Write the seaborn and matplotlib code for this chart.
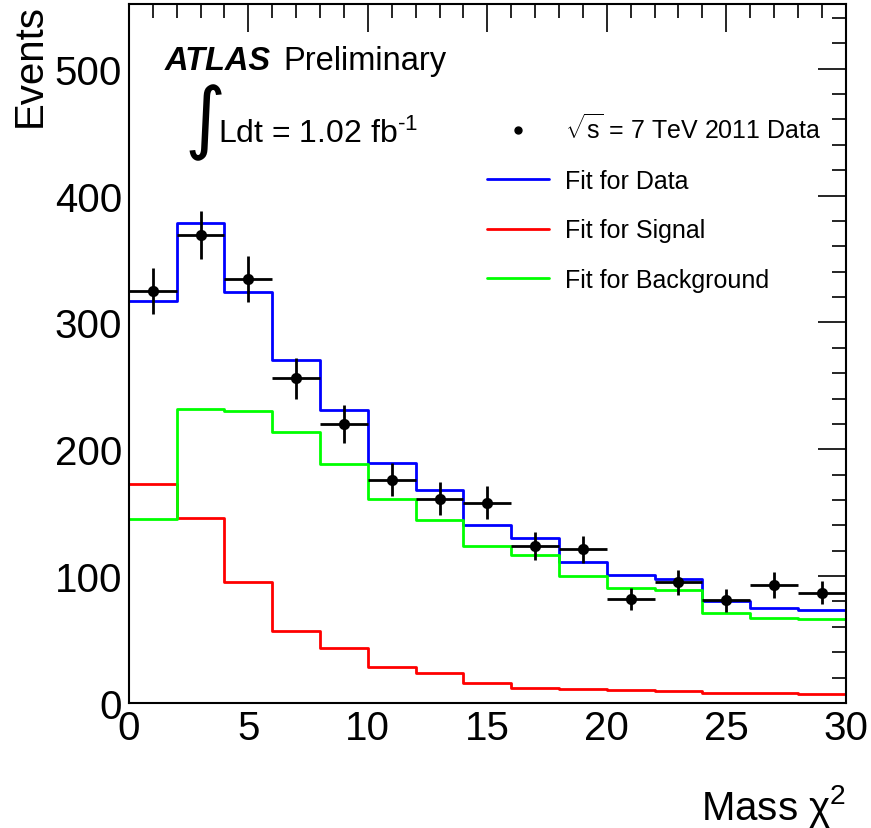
import numpy as np
import matplotlib
matplotlib.use("Agg")
import matplotlib.pyplot as plt
from matplotlib.lines import Line2D
from matplotlib.ticker import MultipleLocator
import seaborn as sns

# bins of Mass chi^2
edges = [0, 2, 4, 6, 8, 10, 12, 14, 16, 18, 20, 22, 24, 26, 28, 30]
centers = [1, 3, 5, 7, 9, 11, 13, 15, 17, 19, 21, 23, 25, 27, 29]

data_counts = [325, 369, 334, 256, 220, 176, 161, 158, 124, 121, 82, 95, 81, 93, 87]
data_err = [18, 19, 18, 16, 15, 13, 13, 13, 11, 11, 9, 10, 9, 10, 9]

fit_data = [317, 378, 324, 270, 231, 189, 168, 140, 130, 111, 101, 98, 80, 75, 73]
fit_signal = [173, 146, 95, 57, 43, 28, 24, 16, 12, 11, 10, 9.5, 8, 8, 7]
fit_background = [145, 232, 230, 214, 188, 161, 144, 124, 117, 100, 91, 89, 71, 67, 66]

sns.set_style("white")
plt.rcParams["font.family"] = ["Liberation Sans", "DejaVu Sans"]
plt.rcParams["mathtext.fontset"] = "custom"
plt.rcParams["mathtext.rm"] = "Liberation Sans"
plt.rcParams["mathtext.it"] = "Liberation Sans:italic"
plt.rcParams["mathtext.bf"] = "Liberation Sans:bold"
plt.rcParams["text.color"] = "black"
plt.rcParams["axes.labelcolor"] = "black"
plt.rcParams["xtick.color"] = "black"
plt.rcParams["ytick.color"] = "black"

fig = plt.figure(figsize=(8.71, 8.29), dpi=100)
ax = fig.add_axes([0.148, 0.1508, 0.823, 0.8432])

lw = 2.0
for vals, col in [(fit_data, "#0000ff"), (fit_signal, "#ff0000"), (fit_background, "#00ff00")]:
    sns.histplot(x=centers, weights=vals, bins=edges, element="step", fill=False,
                 color=col, linewidth=lw, ax=ax)

ax.errorbar(centers, data_counts, yerr=data_err, xerr=1, fmt="none",
            ecolor="black", elinewidth=2, capsize=0, zorder=5)
sns.scatterplot(x=centers, y=data_counts, color="black", s=65, edgecolor="black",
                linewidth=0, zorder=6, ax=ax)

ax.set_xlim(0, 30)
ax.set_ylim(0, 551)
ax.set_xlabel("")
ax.set_ylabel("")
ax.xaxis.set_major_locator(MultipleLocator(5))
ax.xaxis.set_minor_locator(MultipleLocator(1))
ax.yaxis.set_major_locator(MultipleLocator(100))
ax.yaxis.set_minor_locator(MultipleLocator(20))
ax.tick_params(which="both", direction="in", top=True, right=True, color="black",
               width=1.2, labelsize=29, labelcolor="black")
ax.tick_params(which="major", length=20)
ax.tick_params(which="minor", length=10)
ax.tick_params(axis="y", pad=5)
ax.tick_params(axis="x", pad=4)
for sp in ax.spines.values():
    sp.set_color("black")
    sp.set_linewidth(1.5)

fig.text(30 / 871, 1 - 4 / 829, "Events", rotation=90, ha="center", va="top", fontsize=29)
fig.text(846 / 871, 1 - 820 / 829, "Mass χ$^{2}$", ha="right", va="baseline", fontsize=29)

ax.text(0.050, 0.907, "ATLAS", transform=ax.transAxes, fontsize=23.5,
        fontweight="bold", fontstyle="italic", va="baseline")
ax.text(0.215, 0.907, "Preliminary", transform=ax.transAxes, fontsize=23.5, va="baseline")
ax.text(0.106, 0.831, "∫", transform=ax.transAxes, fontsize=57, ha="center", va="center",
        family=["DejaVu Sans"])
ax.text(0.124, 0.802, "Ldt = 1.02 fb$^{\\text{-1}}$", transform=ax.transAxes,
        fontsize=23, va="baseline")

handles = [
    Line2D([], [], marker="o", color="black", linestyle="none", markersize=5),
    Line2D([], [], color="#0000ff", lw=lw),
    Line2D([], [], color="#ff0000", lw=lw),
    Line2D([], [], color="#00ff00", lw=lw),
]
labels = ["$\\sqrt{\\mathrm{s}}$ = 7 TeV 2011 Data", "Fit for Data", "Fit for Signal",
          "Fit for Background"]
ax.legend(handles, labels, loc="upper left", bbox_to_anchor=(0.499, 0.843),
          frameon=False, fontsize=18, borderpad=0, borderaxespad=0,
          handlelength=2.5, handletextpad=0.65, labelspacing=1.02)

fig.savefig("out.png", dpi=100)
